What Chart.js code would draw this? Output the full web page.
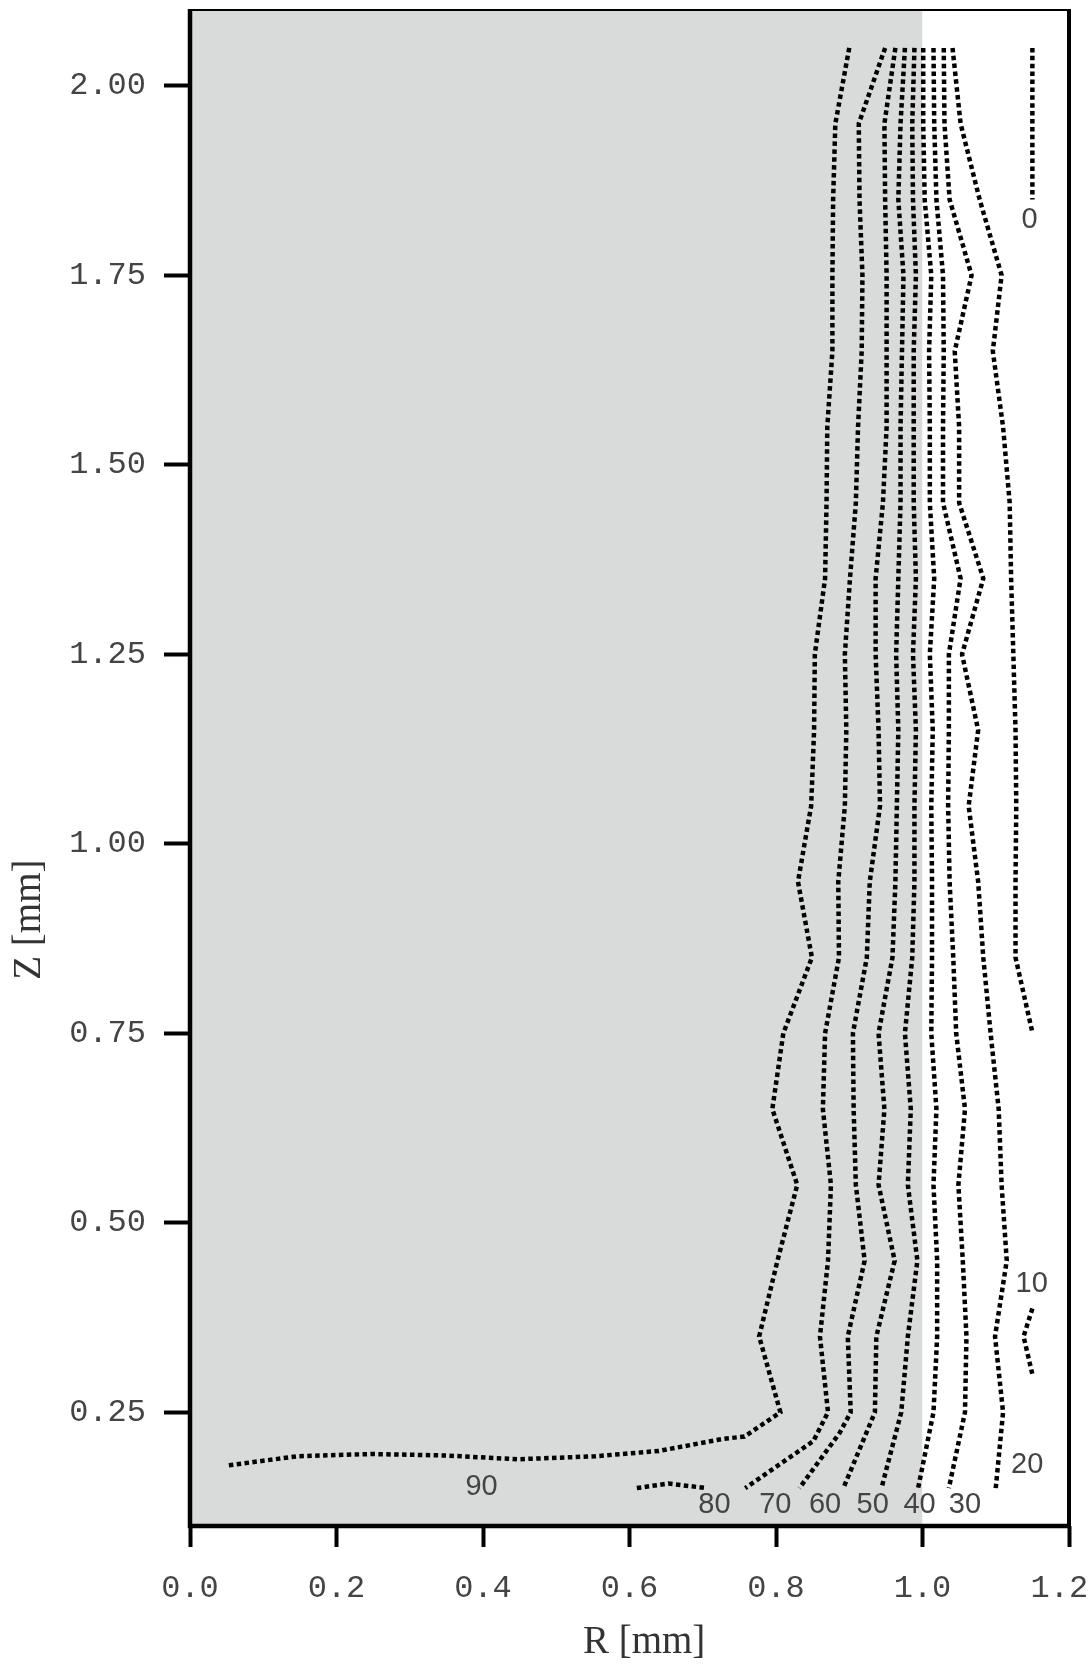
<!DOCTYPE html>
<html lang="en">
<head>
    <meta charset="UTF-8">
    <title>Contours R-Z</title>
    <script src="https://cdn.jsdelivr.net/npm/chart.js"></script>
    <style>
        body { margin: 0; background: #fff; }
        #wrap { width: 1090px; height: 1667px; position: relative; }
    </style>
</head>
<body>
    <div id="wrap"><canvas id="chart"></canvas></div>

    <script>
        // z levels where the contours were read (top to bottom)
        const zLevels = [2.05, 1.95, 1.85, 1.75, 1.65, 1.55, 1.45, 1.35, 1.25, 1.15, 1.05, 0.95, 0.85, 0.75, 0.65, 0.55, 0.45, 0.35, 0.25];

        // r position of each contour at those levels
        const r90 = [0.900, 0.881, 0.878, 0.877, 0.877, 0.870, 0.869, 0.867, 0.853, 0.852, 0.848, 0.830, 0.849, 0.810, 0.795, 0.829, 0.802, 0.777, 0.806];
        const r80 = [0.949, 0.913, 0.914, 0.918, 0.917, 0.912, 0.909, 0.901, 0.894, 0.896, 0.894, 0.885, 0.886, 0.867, 0.864, 0.875, 0.871, 0.860, 0.871];
        const r70 = [0.963, 0.948, 0.949, 0.951, 0.951, 0.951, 0.946, 0.936, 0.936, 0.940, 0.942, 0.928, 0.924, 0.905, 0.906, 0.909, 0.921, 0.898, 0.902];
        const r60 = [0.976, 0.970, 0.967, 0.974, 0.972, 0.970, 0.970, 0.967, 0.964, 0.967, 0.965, 0.963, 0.959, 0.940, 0.948, 0.940, 0.962, 0.937, 0.935];
        const r50 = [0.989, 0.986, 0.987, 0.991, 0.988, 0.988, 0.988, 0.991, 0.987, 0.991, 0.989, 0.989, 0.986, 0.976, 0.984, 0.980, 0.993, 0.980, 0.971];
        const r40 = [1.001, 1.001, 1.003, 1.012, 1.009, 1.010, 1.010, 1.016, 1.010, 1.014, 1.012, 1.013, 1.013, 1.012, 1.019, 1.015, 1.020, 1.020, 1.015];
        const r30 = [1.015, 1.016, 1.019, 1.028, 1.029, 1.028, 1.028, 1.052, 1.036, 1.036, 1.035, 1.037, 1.042, 1.046, 1.058, 1.049, 1.055, 1.060, 1.058];
        const r20 = [1.029, 1.030, 1.037, 1.067, 1.044, 1.050, 1.050, 1.083, 1.054, 1.076, 1.063, 1.076, 1.083, 1.093, 1.104, 1.108, 1.115, 1.099, 1.110];
        const r10 = [1.041, 1.052, 1.078, 1.108, 1.096, 1.110, 1.119, 1.121, 1.124, 1.127, 1.128, 1.127, 1.127];

        // bottom ends of the contours, below z = 0.25
        const tail90R = [0.757, 0.728, 0.640, 0.553, 0.447, 0.350, 0.248, 0.147, 0.052];
        const tail90Z = [0.218, 0.215, 0.199, 0.192, 0.188, 0.193, 0.195, 0.192, 0.180];
        const tail80R = [0.851, 0.758];
        const tail80Z = [0.212, 0.150];
        const tail70R = [0.887, 0.832];
        const tail70Z = [0.223, 0.150];
        const tail60R = [0.892];
        const tail50R = [0.944];
        const tail40R = [0.994];
        const tail30R = [1.036];
        const tail20R = [1.100];
        const tailZ = [0.150];
        const tail10R = [1.150];
        const tail10Z = [0.751];

        // separate small pieces
        const zeroR = [1.150, 1.150];
        const zeroZ = [2.05, 1.85];
        const piece80R = [0.610, 0.653, 0.705];
        const piece80Z = [0.150, 0.156, 0.150];
        const piece10R = [1.150, 1.138, 1.150];
        const piece10Z = [0.387, 0.350, 0.300];

        // contour labels
        const labelText = ['0', '10', '20', '30', '40', '50', '60', '70', '80', '90'];
        const labelR = [1.146, 1.149, 1.143, 1.058, 0.996, 0.932, 0.867, 0.799, 0.716, 0.398];
        const labelZ = [1.823, 0.419, 0.180, 0.128, 0.128, 0.128, 0.128, 0.128, 0.128, 0.152];

        // shaded region r from 0 to grayEdge
        const grayEdge = 1.0;

        const xTicks = [0.0, 0.2, 0.4, 0.6, 0.8, 1.0, 1.2];
        const yTicks = [0.25, 0.50, 0.75, 1.00, 1.25, 1.50, 1.75, 2.00];

        function pts(rs, zs) {
            return rs.map((r, i) => ({ x: r, y: zs[i] }));
        }

        function contour(rs, tr, tz) {
            return pts(rs, zLevels).concat(pts(tr, tz));
        }

        const lineStyle = {
            showLine: true,
            fill: false,
            borderColor: '#000',
            borderWidth: 4.5,
            borderDash: [4.5, 3.4],
            borderCapStyle: 'butt',
            pointRadius: 0,
            tension: 0,
            order: 0
        };

        const datasets = [
            { label: '90', data: contour(r90, tail90R, tail90Z) },
            { label: '80', data: contour(r80, tail80R, tail80Z) },
            { label: '80b', data: pts(piece80R, piece80Z) },
            { label: '70', data: contour(r70, tail70R, tail70Z) },
            { label: '60', data: contour(r60, tail60R, tailZ) },
            { label: '50', data: contour(r50, tail50R, tailZ) },
            { label: '40', data: contour(r40, tail40R, tailZ) },
            { label: '30', data: contour(r30, tail30R, tailZ) },
            { label: '20', data: contour(r20, tail20R, tailZ) },
            { label: '10', data: contour(r10, tail10R, tail10Z) },
            { label: '10b', data: pts(piece10R, piece10Z) },
            { label: '0', data: pts(zeroR, zeroZ) }
        ].map(d => Object.assign({}, lineStyle, d));

        // gray band, filled down to the bottom of the scale
        datasets.push({
            label: 'shade',
            data: [{ x: 0, y: 2.1 }, { x: grayEdge, y: 2.1 }],
            showLine: true,
            borderWidth: 0,
            pointRadius: 0,
            backgroundColor: 'rgb(217,219,218)',
            fill: 'start',
            order: 10
        });

        const monoFont = { family: "'Liberation Mono', 'Courier New', monospace", size: 32 };

        const frameAndText = {
            id: 'frameAndText',
            afterDraw(chart) {
                const { ctx, chartArea: a, scales: { x, y } } = chart;
                ctx.save();
                ctx.strokeStyle = '#000';
                ctx.setLineDash([]);

                ctx.lineWidth = 2;
                ctx.beginPath();
                ctx.moveTo(a.left, a.top);
                ctx.lineTo(a.right, a.top);
                ctx.stroke();

                ctx.lineWidth = 4;
                ctx.beginPath();
                ctx.moveTo(a.right, a.top - 1);
                ctx.lineTo(a.right, a.bottom);
                ctx.stroke();

                ctx.lineWidth = 4.5;
                ctx.beginPath();
                ctx.moveTo(a.left, a.top - 1);
                ctx.lineTo(a.left, a.bottom + 2);
                ctx.moveTo(a.left - 2, a.bottom);
                ctx.lineTo(a.right + 2, a.bottom);
                ctx.stroke();

                // contour level labels
                ctx.fillStyle = '#444';
                ctx.font = "29px 'Liberation Sans', Arial, sans-serif";
                ctx.textAlign = 'center';
                ctx.textBaseline = 'middle';
                labelText.forEach((t, i) => {
                    ctx.fillText(t, x.getPixelForValue(labelR[i]), y.getPixelForValue(labelZ[i]));
                });

                // axis titles
                ctx.fillStyle = '#333';
                ctx.font = "39px 'Liberation Serif', 'Times New Roman', serif";
                ctx.fillText('R [mm]', x.getPixelForValue(0.62), a.bottom + 117);
                ctx.translate(30, y.getPixelForValue(0.9));
                ctx.rotate(-Math.PI / 2);
                ctx.fillText('Z [mm]', 0, 0);
                ctx.restore();
            }
        };

        new Chart(document.getElementById('chart'), {
            type: 'scatter',
            data: { datasets: datasets },
            options: {
                responsive: true,
                maintainAspectRatio: false,
                animation: false,
                layout: { padding: { top: 10, right: 21, left: 0, bottom: 0 } },
                plugins: {
                    legend: { display: false },
                    tooltip: { enabled: false }
                },
                scales: {
                    x: {
                        type: 'linear',
                        min: 0,
                        max: 1.2,
                        border: { display: false },
                        grid: { drawOnChartArea: false, drawTicks: true, tickLength: 21, tickWidth: 4, tickColor: '#000' },
                        afterBuildTicks: (s) => { s.ticks = xTicks.map(v => ({ value: v })); },
                        afterFit: (s) => { s.height = 141; s.paddingLeft = 0; s.paddingRight = 0; },
                        ticks: {
                            autoSkip: false,
                            maxRotation: 0,
                            padding: 22,
                            color: '#444',
                            font: monoFont,
                            // last label pulled left a little so it stays inside the page
                            callback: (v) => Number(v).toFixed(1) + (v === xTicks[xTicks.length - 1] ? ' ' : '')
                        }
                    },
                    y: {
                        type: 'linear',
                        min: 0.1,
                        max: 2.1,
                        border: { display: false },
                        grid: { drawOnChartArea: false, drawTicks: true, tickLength: 26, tickWidth: 4, tickColor: '#000' },
                        afterBuildTicks: (s) => { s.ticks = yTicks.map(v => ({ value: v })); },
                        afterFit: (s) => { s.width = 190; s.paddingTop = 0; s.paddingBottom = 0; },
                        ticks: {
                            autoSkip: false,
                            padding: 18,
                            color: '#444',
                            font: monoFont,
                            callback: (v) => Number(v).toFixed(2)
                        }
                    }
                }
            },
            plugins: [frameAndText]
        });
    </script>
</body>
</html>
